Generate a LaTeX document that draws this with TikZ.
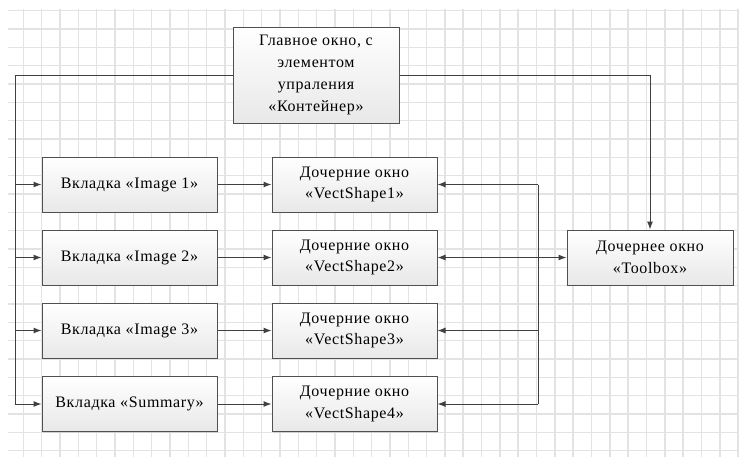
\documentclass[tikz,border=0pt]{standalone}
\usepackage{fontspec}
\setmainfont{Liberation Serif}
\newfontfamily\winfont{Liberation Serif}[LetterSpace=4]
\usetikzlibrary{arrows.meta,shadows}
\definecolor{gridgray}{HTML}{E3E3E3}
\definecolor{linegray}{HTML}{404040}
\definecolor{boxborder}{HTML}{505050}
\tikzset{
  win/.style={shape=rectangle, draw=boxborder, line width=0.75pt,
    top color=white, bottom color=gray!18, align=center, inner sep=2pt,
    font=\winfont\fontsize{12}{16.3}\selectfont,
    drop shadow={shadow xshift=0.8pt, shadow yshift=-0.8pt, opacity=0.2}},
  link/.style={draw=linegray, line width=0.75pt},
  >={Latex[length=6pt,width=4.5pt]}
}
\begin{document}
\begin{tikzpicture}[x=0.75pt, y=-0.75pt]
\useasboundingbox (0,0) rectangle (739,457);
\fill[white] (0,0) rectangle (739,457);
% grid
\foreach \i in {0,...,24} \draw[gridgray, line width=1.1pt] (8, 10.7+18.33*\i) -- (739, 10.7+18.33*\i);
\foreach \i in {0,...,39} \draw[gridgray, line width=1.1pt] (23.3+18.33*\i, 9) -- (23.3+18.33*\i, 457);
% windows
\node[win, minimum width=124.5pt, minimum height=72pt] (M) at (316, 75) {Главное окно, с\\элементом\\упраления\\«Контейнер»};
\node[win, minimum width=131.25pt, minimum height=41.25pt] (T1) at (129.5, 184.5) {Вкладка «Image 1»};
\node[win, minimum width=131.25pt, minimum height=41.25pt] (T2) at (129.5, 257.5) {Вкладка «Image 2»};
\node[win, minimum width=131.25pt, minimum height=41.25pt] (T3) at (129.5, 330.5) {Вкладка «Image 3»};
\node[win, minimum width=131.25pt, minimum height=41.25pt] (T4) at (129.5, 404) {Вкладка «Summary»};
\node[win, minimum width=123.75pt, minimum height=41.25pt] (W1) at (354.5, 184.5) {Дочерние окно\\«VectShape1»};
\node[win, minimum width=123.75pt, minimum height=41.25pt] (W2) at (354.5, 257.5) {Дочерние окно\\«VectShape2»};
\node[win, minimum width=123.75pt, minimum height=41.25pt] (W3) at (354.5, 330.5) {Дочерние окно\\«VectShape3»};
\node[win, minimum width=123.75pt, minimum height=41.25pt] (W4) at (354.5, 404) {Дочерние окно\\«VectShape4»};
\node[win, minimum width=124.5pt, minimum height=41.25pt] (TB) at (650, 257.5) {Дочернее окно\\«Toolbox»};
\coordinate (L) at (15, 75);
\coordinate (R) at (538, 184.5);
% connectors
\draw[link, ->] (M.west) -- (L) |- (T4.west);
\foreach \t in {T1,T2,T3} \draw[link, ->] (L |- \t.west) -- (\t.west);
\draw[link, ->] (M.east) -| (TB.north);
\foreach \n in {1,...,4} \draw[link, ->] (T\n.east) -- (W\n.west);
\draw[link] (R) -- (R |- W4.east);
\foreach \n in {1,3,4} \draw[link, ->] (R |- W\n.east) -- (W\n.east);
\draw[link, <->] (W2.east) -- (TB.west);
\end{tikzpicture}
\end{document}
